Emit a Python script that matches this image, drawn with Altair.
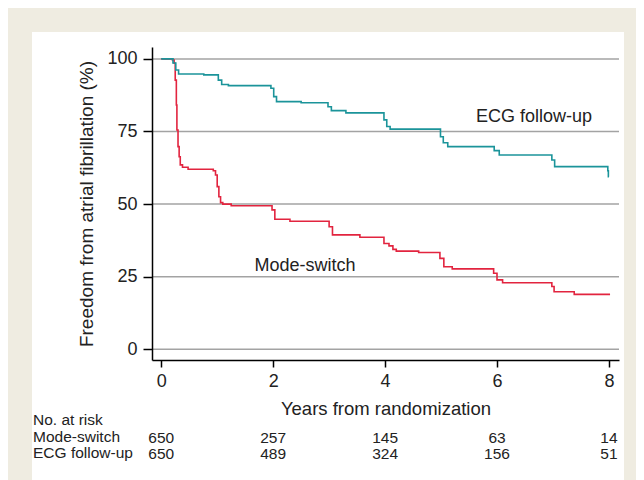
import altair as alt
import pandas as pd

# ECG follow-up Kaplan-Meier steps (years, % free from AF)
ecg_t = [0, 0.21, 0.26, 0.31, 0.76, 1.02, 1.08, 1.2, 1.96, 2.01, 2.06, 2.5, 2.98, 3.04, 3.3,
         3.98, 4.03, 4.09, 4.99, 5.04, 5.12, 5.95, 6.04, 6.98, 7.03, 7.98, 7.99, 8.0]
ecg_s = [100, 98.6, 96.2, 94.8, 94.5, 92.7, 91.2, 90.8, 89.9, 87.0, 85.3, 84.9, 83.5, 82.2, 81.4,
         79.0, 76.7, 75.8, 73.2, 71.1, 69.8, 68.4, 66.9, 65.2, 62.9, 61.5, 59.4, 59.4]

# Mode-switch Kaplan-Meier steps
ms_t = [0, 0.20, 0.23, 0.25, 0.27, 0.28, 0.30, 0.32, 0.34, 0.38, 0.48, 0.93, 0.97, 1.00, 1.03,
        1.06, 1.10, 1.25, 1.98, 2.03, 2.3, 3.0, 3.06, 3.55, 3.98, 4.07, 4.14, 4.2, 4.6, 4.98,
        5.05, 5.2, 5.94, 6.0, 6.1, 6.98, 7.02, 7.38, 8.02]
ms_s = [100, 99.6, 98.5, 92.7, 84.1, 75.5, 69.8, 66.3, 63.5, 62.7, 62.0, 61.5, 60.0, 56.0, 52.5,
        50.5, 50.0, 49.4, 48.0, 44.8, 44.1, 42.2, 39.4, 38.6, 36.4, 35.6, 34.4, 33.8, 33.3, 31.3,
        28.4, 27.7, 26.2, 23.9, 22.9, 21.6, 19.8, 18.9, 18.9]

groups = ["Mode-switch", "ECG follow-up"]
colors = ["#e2243f", "#1b949a"]

risk_t = [0, 2, 4, 6, 8]
risk_ms = [650, 257, 145, 63, 14]
risk_ecg = [650, 489, 324, 156, 51]

y_ticks = [0, 25, 50, 75, 100]
x_ticks = [0, 2, 4, 6, 8]

label_x = [2.57, 6.66]
label_y = [28.7, 80.0]

FONT = "Liberation Sans"
TXT = "#222222"

curves = pd.DataFrame(
    {"t": ms_t + ecg_t, "s": ms_s + ecg_s,
     "g": [groups[0]] * len(ms_t) + [groups[1]] * len(ecg_t)}
)
risk = pd.DataFrame({"t": risk_t, "ms": risk_ms, "ecg": risk_ecg})
labels = pd.DataFrame({"t": label_x, "s": label_y, "g": groups})
grid = pd.DataFrame({"s": y_ticks})

xscale = alt.Scale(domain=[-0.165, 8.18], nice=False, zero=False)
yscale = alt.Scale(domain=[-3.7, 104.1], nice=False, zero=False)

x_axis = alt.Axis(values=x_ticks, title="Years from randomization", zindex=1,
                  grid=False, tickSize=7, labelPadding=5, titlePadding=9, titleFontSize=18.5)
y_axis = alt.Axis(values=y_ticks, title="Freedom from atrial fibrillation (%)", zindex=1,
                  grid=False, tickSize=9, labelPadding=6, titlePadding=10, titleFontSize=19)

one = pd.DataFrame({"a": [0]})
beige = alt.Chart(one).mark_rect(color="#efece1").encode(
    x=alt.value(-144), x2=alt.value(484), y=alt.value(-39), y2=alt.value(440))
white = alt.Chart(one).mark_rect(color="#ffffff").encode(
    x=alt.value(-120), x2=alt.value(472), y=alt.value(-15), y2=alt.value(440))

gridlines = alt.Chart(grid).mark_rule(color="#a3a3a3", strokeWidth=1.5).encode(
    y=alt.Y("s:Q", scale=yscale, axis=y_axis), x=alt.value(0), x2=alt.value(467))

lines = alt.Chart(curves).mark_line(interpolate="step-after", strokeWidth=1.6).encode(
    x=alt.X("t:Q", scale=xscale, axis=x_axis),
    y=alt.Y("s:Q", scale=yscale, axis=y_axis),
    color=alt.Color("g:N", scale=alt.Scale(domain=groups, range=colors), legend=None),
    order=alt.Order("t:Q"),
)

curve_labels = alt.Chart(labels).mark_text(font=FONT, fontSize=18, color=TXT, align="center").encode(
    x=alt.X("t:Q", scale=xscale, axis=x_axis), y=alt.Y("s:Q", scale=yscale, axis=y_axis), text="g:N")

risk_ms_text = alt.Chart(risk).mark_text(font=FONT, fontSize=15.5, color=TXT, align="center").encode(
    x=alt.X("t:Q", scale=xscale, axis=x_axis), y=alt.value(391), text="ms:Q")
risk_ecg_text = alt.Chart(risk).mark_text(font=FONT, fontSize=15.5, color=TXT, align="center").encode(
    x=alt.X("t:Q", scale=xscale, axis=x_axis), y=alt.value(407), text="ecg:Q")


def row_label(name, ypix):
    return alt.Chart(pd.DataFrame({"name": [name]})).mark_text(
        font=FONT, fontSize=15.5, color=TXT, align="left").encode(
        x=alt.value(-119), y=alt.value(ypix), text="name:N")


rows = [row_label("No. at risk", 373), row_label("Mode-switch", 390), row_label("ECG follow-up", 406)]

chart = alt.layer(beige, white, gridlines, lines, curve_labels, risk_ms_text, risk_ecg_text, *rows).properties(
    width=467, height=313,
    padding={"left": 152, "top": 47, "right": 25, "bottom": 120},
    autosize=alt.AutoSizeParams(type="none"),
    background="#ffffff",
).configure_view(stroke=None).configure_axis(
    domainColor="#000000", domainWidth=1.5, tickColor="#000000", tickWidth=1.5,
    labelFont=FONT, labelFontSize=18, labelColor=TXT,
    titleFont=FONT, titleFontSize=18, titleColor=TXT, titleFontWeight="normal",
)

chart.save("out.html", embed_options={"renderer": "svg", "actions": False})
